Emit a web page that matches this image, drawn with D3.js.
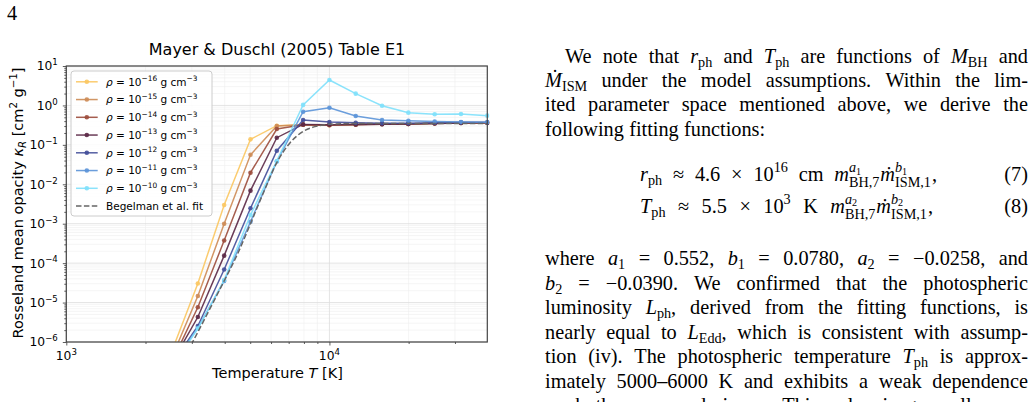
<!DOCTYPE html>
<html>
<head>
<meta charset="utf-8">
<script src="https://cdn.jsdelivr.net/npm/d3@7"></script>
<style>
  body { margin: 0; background: #fff; }
  svg { display: block; }
</style>
</head>
<body>
<div id="page"></div>
<script>
// values (Mayer & Duschl 2005, Table E1)
var temperature = [2512, 3162, 3981, 5012, 6310, 7943, 10000, 12589, 15849, 19953, 25119, 31623, 39811];
var densityExp = ["\u221216", "\u221215", "\u221214", "\u221213", "\u221212", "\u221211", "\u221210"];
var kappa16 = [5.6e-7, 3.05e-5, 2.99e-3, 0.138, 0.306, 0.324, 0.316, 0.331, 0.339, 0.339, 0.355, 0.363, 0.363];
var kappa15 = [3.9e-7, 1.47e-5, 1.0e-3, 0.056, 0.300, 0.325, 0.318, 0.330, 0.338, 0.340, 0.352, 0.360, 0.363];
var kappa14 = [3.0e-7, 7.6e-6, 3.75e-4, 0.0197, 0.252, 0.323, 0.316, 0.325, 0.335, 0.338, 0.350, 0.358, 0.362];
var kappa13 = [2.9e-7, 4.3e-6, 1.55e-4, 6.9e-3, 0.152, 0.330, 0.323, 0.330, 0.335, 0.338, 0.350, 0.357, 0.362];
var kappa12 = [2.7e-7, 2.55e-6, 6.9e-5, 2.46e-3, 0.0711, 0.427, 0.380, 0.363, 0.355, 0.355, 0.363, 0.372, 0.372];
var kappa11 = [2.5e-7, 2.26e-6, 3.55e-5, 1.12e-3, 0.038, 0.693, 0.875, 0.540, 0.427, 0.410, 0.390, 0.380, 0.372];
var kappa10 = [2.2e-7, 2.2e-6, 3.74e-5, 1.66e-3, 0.039, 1.03, 4.42, 1.99, 0.984, 0.655, 0.596, 0.607, 0.550];
var begelmanT = [2884, 3162, 3548, 3981, 4467, 5012, 5623, 6310, 7079, 7943, 8913, 10000, 12589, 19953, 39811];
var begelmanKappa = [5.6e-7, 1.78e-6, 7.9e-6, 3.55e-5, 1.66e-4, 1.0e-3, 6.3e-3, 0.0355, 0.112, 0.219, 0.295, 0.331, 0.347, 0.347, 0.347];
var xMajor = [1e3, 1e4], xExp = ["3", "4"];
var yMajor = [1e-6, 1e-5, 1e-4, 1e-3, 1e-2, 1e-1, 1e0, 1e1];
var yExp = ["\u22126", "\u22125", "\u22124", "\u22123", "\u22122", "\u22121", "0", "1"];

var series = [kappa16, kappa15, kappa14, kappa13, kappa12, kappa11, kappa10];
var palette = ["#fbc761", "#cd8b55", "#9c4c3c", "#5b2846", "#434e99", "#5b93d8", "#7ee0fb"];

var svg = d3.select("#page").append("svg")
    .attr("width", 1035)
    .attr("height", 402)
    .style("background", "#fff");

//---------------- chart ----------------
var font = "'DejaVu Sans', sans-serif";
var margin = {top: 66, left: 66.3},
    width = 421,
    height = 276;

var x = d3.scaleLog().domain([1000, 39811]).range([0, width]);
var y = d3.scaleLog().domain([1e-6, 10]).range([height, 0]);

var xMinor = [2e3, 3e3, 4e3, 5e3, 6e3, 7e3, 8e3, 9e3, 2e4, 3e4];
var yMinor = [];
yMajor.slice(0, -1).forEach(function(d) {
  for (var m = 2; m < 10; m++) yMinor.push(d * m);
});

var chart = svg.append("g")
    .attr("transform", "translate(" + margin.left + "," + margin.top + ")")
    .style("font-family", font);

svg.append("defs").append("clipPath")
    .attr("id", "clip")
    .append("rect")
    .attr("width", width + 2)
    .attr("height", height);

//grid
var grid = chart.append("g");
grid.selectAll(".gx").data(xMinor).enter().append("line")
    .attr("x1", function(d) { return x(d); }).attr("x2", function(d) { return x(d); })
    .attr("y1", 0).attr("y2", height)
    .attr("stroke", "#eeeeee").attr("stroke-width", 0.6);
grid.selectAll(".gy").data(yMinor).enter().append("line")
    .attr("y1", function(d) { return y(d); }).attr("y2", function(d) { return y(d); })
    .attr("x1", 0).attr("x2", width)
    .attr("stroke", "#eeeeee").attr("stroke-width", 0.6);
grid.selectAll(".gX").data(xMajor).enter().append("line")
    .attr("x1", function(d) { return x(d); }).attr("x2", function(d) { return x(d); })
    .attr("y1", 0).attr("y2", height)
    .attr("stroke", "#dcdcdc").attr("stroke-width", 0.8);
grid.selectAll(".gY").data(yMajor).enter().append("line")
    .attr("y1", function(d) { return y(d); }).attr("y2", function(d) { return y(d); })
    .attr("x1", 0).attr("x2", width)
    .attr("stroke", "#dcdcdc").attr("stroke-width", 0.8);

//axes (tick marks only, labels added below)
function ticksOnly(axis, vals, size) {
  return axis.tickValues(vals).tickSize(size).tickFormat("");
}
var gx = chart.append("g").attr("transform", "translate(0," + height + ")");
gx.append("g").call(ticksOnly(d3.axisBottom(x), xMinor, 2));
gx.append("g").call(ticksOnly(d3.axisBottom(x), xMajor, 3.5));
var gy = chart.append("g");
gy.append("g").call(ticksOnly(d3.axisLeft(y), yMinor, 2));
gy.append("g").call(ticksOnly(d3.axisLeft(y), yMajor, 3.5));
chart.selectAll(".domain").remove();
chart.selectAll(".tick line").attr("stroke", "#333").attr("stroke-width", 0.8);

function powerLabel(sel, exp, size) {
  sel.append("tspan").text("10");
  sel.append("tspan").attr("font-size", size * 0.7).attr("dy", -size * 0.42).text(exp);
}
xMajor.forEach(function(d, i) {
  var t = chart.append("text")
      .attr("x", x(d)).attr("y", height + 18)
      .attr("text-anchor", "middle")
      .attr("font-size", 12.3);
  powerLabel(t, xExp[i], 12.3);
});
yMajor.forEach(function(d, i) {
  var t = chart.append("text")
      .attr("x", -8.5).attr("y", y(d) + 4.4)
      .attr("text-anchor", "end")
      .attr("font-size", 12.3);
  powerLabel(t, yExp[i], 12.3);
});

//data lines
var plot = chart.append("g").attr("clip-path", "url(#clip)");
var line = d3.line()
    .x(function(d) { return x(d[0]); })
    .y(function(d) { return y(d[1]); });

series.forEach(function(vals, i) {
  var pts = d3.zip(temperature, vals);
  plot.append("path")
      .datum(pts)
      .attr("d", line)
      .attr("fill", "none")
      .attr("stroke", palette[i])
      .attr("stroke-width", 1.5)
      .attr("opacity", 0.9);
  plot.selectAll(".p" + i).data(pts).enter().append("circle")
      .attr("cx", function(d) { return x(d[0]); })
      .attr("cy", function(d) { return y(d[1]); })
      .attr("r", 2.3)
      .attr("fill", palette[i])
      .attr("opacity", 0.9);
});

plot.append("path")
    .datum(d3.zip(begelmanT, begelmanKappa))
    .attr("d", line.curve(d3.curveMonotoneX))
    .attr("fill", "none")
    .attr("stroke", "#666")
    .attr("stroke-width", 1.5)
    .attr("stroke-dasharray", "5.5,2.4");

//frame
chart.append("rect")
    .attr("width", width).attr("height", height)
    .attr("fill", "none").attr("stroke", "#444").attr("stroke-width", 1.2);

//title and axis labels
svg.append("text")
    .attr("x", 277).attr("y", 55)
    .attr("text-anchor", "middle")
    .style("font-family", font).attr("font-size", 16)
    .text("Mayer & Duschl (2005) Table E1");

svg.append("text")
    .attr("x", 277.5).attr("y", 378)
    .attr("text-anchor", "middle")
    .style("font-family", font).attr("font-size", 14.5)
    .call(function(t) {
      t.append("tspan").text("Temperature ");
      t.append("tspan").attr("font-style", "italic").text("T");
      t.append("tspan").text(" [K]");
    });

svg.append("text")
    .attr("transform", "translate(23,203) rotate(-90)")
    .attr("text-anchor", "middle")
    .style("font-family", font).attr("font-size", 14.5)
    .call(function(t) {
      t.append("tspan").text("Rosseland mean opacity ");
      t.append("tspan").attr("font-style", "italic").text("\u03ba");
      t.append("tspan").attr("font-style", "italic").attr("font-size", 10.2).attr("dy", 3).text("R");
      t.append("tspan").attr("dy", -3).text(" [cm");
      t.append("tspan").attr("font-size", 10.2).attr("dy", -6).text("2");
      t.append("tspan").attr("dy", 6).text(" g");
      t.append("tspan").attr("font-size", 10.2).attr("dy", -6).text("\u22121");
      t.append("tspan").attr("dy", 6).text("]");
    });

//legend
var legend = svg.append("g").style("font-family", font);
legend.append("rect")
    .attr("x", 71).attr("y", 71).attr("width", 141).attr("height", 145)
    .attr("rx", 3)
    .attr("fill", "#fff").attr("fill-opacity", 0.85)
    .attr("stroke", "#cccccc").attr("stroke-width", 1);

densityExp.forEach(function(e, i) {
  var ly = 81.8 + i * 17.75;
  legend.append("line")
      .attr("x1", 76).attr("x2", 97.7).attr("y1", ly).attr("y2", ly)
      .attr("stroke", palette[i]).attr("stroke-width", 1.5).attr("opacity", 0.9);
  legend.append("circle")
      .attr("cx", 86.8).attr("cy", ly).attr("r", 2.3)
      .attr("fill", palette[i]).attr("opacity", 0.9);
  var t = legend.append("text")
      .attr("x", 106).attr("y", ly + 3.8)
      .attr("font-size", 10.5);
  t.append("tspan").attr("font-style", "italic").text("\u03c1");
  t.append("tspan").text(" = 10");
  t.append("tspan").attr("font-size", 7.4).attr("dy", -4.4).text(e);
  t.append("tspan").attr("dy", 4.4).text(" g cm");
  t.append("tspan").attr("font-size", 7.4).attr("dy", -4.4).text("\u22123");
});
var by = 81.8 + 7 * 17.75;
legend.append("line")
    .attr("x1", 76).attr("x2", 97.7).attr("y1", by).attr("y2", by)
    .attr("stroke", "#666").attr("stroke-width", 1.5).attr("stroke-dasharray", "5.5,2.4");
legend.append("text")
    .attr("x", 106).attr("y", by + 3.8)
    .attr("font-size", 10.5)
    .text("Begelman et al. fit");

//---------------- page text ----------------
var fs = 20.3;
var page = svg.append("g")
    .style("font-family", "'Liberation Serif', 'Times New Roman', serif")
    .attr("fill", "#000");

page.append("text").attr("x", 7).attr("y", 20).attr("font-size", fs).text("4");

var ST = {
  r: {k: 1, dy: 0, it: 0},
  i: {k: 1, dy: 0, it: 1},
  b: {k: 0.7, dy: 0.22, it: 0},
  sb: {k: 0.7, dy: 0.3, it: 0},
  p: {k: 0.7, dy: -0.42, it: 0},
  ip: {k: 0.7, dy: -0.42, it: 1},
  pb: {k: 0.5, dy: -0.3, it: 0}
};

// j: justify to the column edge; end: spread the gaps to reach that x
var textLines = [
  {x: 565, y: 62.5, j: 1, segs: [["We note that ", "r"], ["r", "i"], ["ph", "b"], [" and ", "r"], ["T", "i"], ["ph", "b"], [" are functions of ", "r"], ["M", "i"], ["BH", "b"], [" and", "r"]]},
  {x: 545, y: 86.9, j: 1, segs: [["\u1e40", "i"], ["ISM", "b"], [" under the model assumptions. Within the lim-", "r"]]},
  {x: 545, y: 111.3, j: 1, segs: [["ited parameter space mentioned above, we derive the", "r"]]},
  {x: 545, y: 135.7, j: 0, gap: 0.26, segs: [["following fitting functions:", "r"]]},
  {x: 640, y: 181, end: 937, tag: "(7)", segs: [["r", "i"], ["ph", "b"], [" \u2248 4.6 \u00d7 10", "r"], ["16", "p"], [" cm ", "r"], ["m", "i"],
      ["^", [["a", "ip"], ["1", "pb"]], [["BH,7", "sb"]]], ["\u1e41", "i"], ["^", [["b", "ip"], ["1", "pb"]], [["ISM,1", "sb"]]], [",", "r"]]},
  {x: 640, y: 212.5, end: 933, tag: "(8)", segs: [["T", "i"], ["ph", "b"], [" \u2248 5.5 \u00d7 10", "r"], ["3", "p"], [" K ", "r"], ["m", "i"],
      ["^", [["a", "ip"], ["2", "pb"]], [["BH,7", "sb"]]], ["\u1e41", "i"], ["^", [["b", "ip"], ["2", "pb"]], [["ISM,1", "sb"]]], [",", "r"]]},
  {x: 545, y: 265, j: 1, segs: [["where ", "r"], ["a", "i"], ["1", "b"], [" = 0.552, ", "r"], ["b", "i"], ["1", "b"], [" = 0.0780, ", "r"], ["a", "i"], ["2", "b"], [" = \u22120.0258, and", "r"]]},
  {x: 545, y: 289.5, j: 1, segs: [["b", "i"], ["2", "b"], [" = \u22120.0390. We confirmed that the photospheric", "r"]]},
  {x: 545, y: 314, j: 1, segs: [["luminosity ", "r"], ["L", "i"], ["ph", "b"], [", derived from the fitting functions, is", "r"]]},
  {x: 545, y: 338.5, j: 1, segs: [["nearly equal to ", "r"], ["L", "i"], ["Edd", "b"], [", which is consistent with assump-", "r"]]},
  {x: 545, y: 363, j: 1, segs: [["tion (iv). The photospheric temperature ", "r"], ["T", "i"], ["ph", "b"], [" is approx-", "r"]]},
  {x: 545, y: 387.5, j: 1, segs: [["imately 5000\u20136000 K and exhibits a weak dependence", "r"]]},
  {x: 545, y: 412, j: 1, segs: [["on both ", "r"], ["m", "i"], ["BH,7", "b"], [" and ", "r"], ["\u1e41", "i"], ["ISM,1", "b"], [". This value is generally con-", "r"]]}
];
var textRight = 1028;

function layLine(L) {
  var g = page.append("g");
  var items = [];
  L.segs.forEach(function(s) {
    if (s[0] === "^") { items.push({kind: "scr", sup: s[1], sub: s[2]}); return; }
    s[0].split(/( )/).forEach(function(p) {
      if (p === " ") items.push({kind: "gap"});
      else if (p !== "") items.push({kind: "txt", t: p, s: s[1]});
    });
  });
  function mk(t, s) {
    var st = ST[s];
    var el = g.append("text")
        .attr("font-size", fs * st.k)
        .attr("font-style", st.it ? "italic" : null)
        .attr("y", L.y + st.dy * fs)
        .text(t);
    return {el: el, w: el.node().getComputedTextLength()};
  }
  function run(list) {
    var parts = [], w = 0;
    list.forEach(function(s) { var m = mk(s[0], s[1]); m.off = w; w += m.w; parts.push(m); });
    return {parts: parts, w: w};
  }
  var nat = 0, gaps = 0;
  items.forEach(function(it) {
    if (it.kind === "gap") { gaps++; return; }
    if (it.kind === "txt") { it.r = run([[it.t, it.s]]); it.runs = [it.r]; }
    else {
      var a = run(it.sup), b = run(it.sub);
      it.runs = [a, b];
      it.r = {w: Math.max(a.w, b.w) + 1};
    }
    nat += it.r.w;
  });
  var gw;
  if (L.j) gw = (textRight - L.x - nat) / gaps;
  else if (L.end) gw = (L.end - L.x - nat) / gaps;
  else gw = fs * L.gap;
  var cx = L.x;
  items.forEach(function(it) {
    if (it.kind === "gap") { cx += gw; return; }
    it.runs.forEach(function(r) {
      r.parts.forEach(function(p) { p.el.attr("x", cx + p.off); });
    });
    cx += it.r.w;
  });
  if (L.tag) {
    g.append("text").attr("x", textRight).attr("y", L.y)
        .attr("text-anchor", "end").attr("font-size", fs).text(L.tag);
  }
}
textLines.forEach(layLine);
</script>
</body>
</html>
